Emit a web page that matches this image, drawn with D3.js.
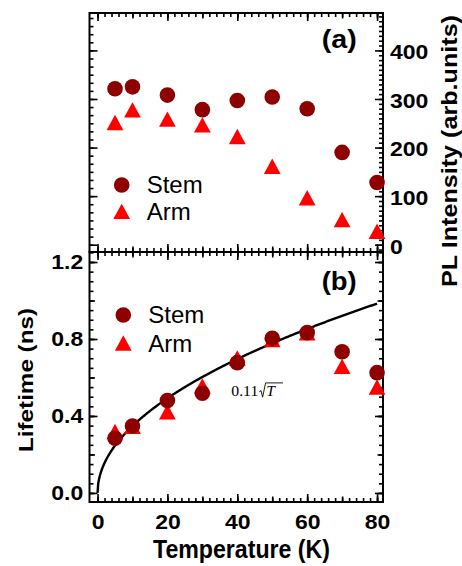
<!DOCTYPE html>
<html><head><meta charset="utf-8">
<script src="https://cdn.jsdelivr.net/npm/d3@7"></script>
<style>html,body{margin:0;padding:0;background:#fff;} svg{display:block;}</style>
</head><body>
<svg id="chart" width="462" height="566"></svg>
<script>
// Measurement temperatures (K)
const temperatures = [5, 10, 20, 30, 40, 50, 60, 70, 80];
// (a) PL intensity, arb. units
const plStem = [321, 325, 308, 278, 297, 304, 280, 190, 128];
const plArm  = [251, 277, 258, 246, 222, 161, 96, 51, 27];
// (b) PL lifetime, ns
const lifeStem = [0.284, 0.348, 0.480, 0.518, 0.677, 0.804, 0.833, 0.734, 0.625];
const lifeArm  = [0.318, 0.345, 0.420, 0.555, 0.700, 0.795, 0.830, 0.656, 0.549];
// fitted model: tau = fitCoef * sqrt(T)
const fitCoef = 0.11;
// tick labels
const tempTicks = [0, 20, 40, 60, 80];
const plTicks = [0, 100, 200, 300, 400];
const lifeTicks = [0.0, 0.4, 0.8, 1.2];
const seriesNames = ["Stem", "Arm"];
const panelLabels = ["(a)", "(b)"];

const COL_STEM = "#8e0000", COL_ARM = "#ff0000";
const svg = d3.select("#chart");

// panel geometry
const L = 89.5, R = 383, topA = 13, midY = 252, botB = 502;

const x = d3.scaleLinear().domain([-2.3, 81.7]).range([L, R]);
const yA = d3.scaleLinear().domain([-15, 477]).range([midY, topA]);
const yB = d3.scaleLinear().domain([-0.047, 1.252]).range([botB, midY]);

const tickFont = "'Liberation Sans', Arial, sans-serif";

// tiered inward ticks: minor, medium, major
function tiered(g, makeAxis, scale, tiers) {
  tiers.forEach(t => {
    const ax = makeAxis(scale).tickValues(t.values).tickSize(-t.len).tickFormat("");
    const sel = g.append("g").call(ax);
    sel.select(".domain").remove();
    sel.selectAll(".tick line").attr("stroke", "#000").attr("stroke-width", 1.6);
  });
}

function labelAxis(g, makeAxis, scale, values, fmt, pad) {
  const ax = makeAxis(scale).tickValues(values).tickSize(0).tickPadding(pad).tickFormat(fmt);
  const sel = g.append("g").call(ax);
  sel.select(".domain").remove();
  sel.selectAll(".tick line").remove();
  sel.selectAll(".tick text")
    .attr("fill", "#000")
    .style("font-family", tickFont)
    .style("font-weight", "bold")
    .style("font-size", "20px")
    .attr("transform", "scale(1.15,1)");
  return sel;
}

const xMinor = d3.range(0, 81, 2), xMid = d3.range(0, 81, 10), xMajor = tempTicks;
const xTiers = [{values: xMinor, len: 4}, {values: xMid, len: 5.5}, {values: xMajor, len: 8}];

// ---------- panel (a) ----------
const gA = svg.append("g");
tiered(gA.append("g").attr("transform", `translate(0,${topA})`), d3.axisTop, x, xTiers);
tiered(gA.append("g").attr("transform", `translate(0,${midY})`), d3.axisBottom, x, xTiers);
// left edge ticks
tiered(gA.append("g").attr("transform", `translate(${L},0)`), d3.axisLeft, yA, [
  {values: d3.range(0, 477, 100 / 6).map(v => +v.toFixed(3)), len: 4},
  {values: d3.range(0, 477, 100), len: 8}
]);
// right intensity axis
tiered(gA.append("g").attr("transform", `translate(${R},0)`), d3.axisRight, yA, [
  {values: d3.range(-10, 477, 10), len: 4},
  {values: d3.range(0, 477, 100), len: 8}
]);
labelAxis(gA.append("g").attr("transform", `translate(${R},0)`), d3.axisRight, yA, plTicks, d3.format("d"), 6)
  .selectAll(".tick text").attr("dy", "0.42em");

gA.append("rect").attr("x", L).attr("y", topA).attr("width", R - L).attr("height", midY - topA)
  .attr("fill", "none").attr("stroke", "#000").attr("stroke-width", 2);

// ---------- panel (b) ----------
const gB = svg.append("g");
tiered(gB.append("g").attr("transform", `translate(0,${midY})`), d3.axisTop, x, xTiers);
tiered(gB.append("g").attr("transform", `translate(0,${botB})`), d3.axisBottom, x, xTiers);
const yBTiers = [
  {values: d3.range(0, 1.26, 0.05).map(v => +v.toFixed(2)), len: 4},
  {values: d3.range(0, 1.26, 0.2).map(v => +v.toFixed(2)), len: 5.5},
  {values: lifeTicks, len: 8}
];
tiered(gB.append("g").attr("transform", `translate(${L},0)`), d3.axisLeft, yB, yBTiers);
tiered(gB.append("g").attr("transform", `translate(${R},0)`), d3.axisRight, yB, yBTiers);
labelAxis(gB.append("g").attr("transform", `translate(${L},0)`), d3.axisLeft, yB, lifeTicks, d3.format(".1f"), 5.5);
labelAxis(gB.append("g").attr("transform", `translate(0,${botB})`), d3.axisBottom, x, tempTicks, d3.format("d"), 13);

gB.append("rect").attr("x", L).attr("y", midY).attr("width", R - L).attr("height", botB - midY)
  .attr("fill", "none").attr("stroke", "#000").attr("stroke-width", 2);

// fit curve
const fitT = d3.range(0, 80.001, 0.2);
gB.append("path")
  .datum(fitT)
  .attr("fill", "none").attr("stroke", "#000").attr("stroke-width", 2.4)
  .attr("d", d3.line().x(t => x(t)).y(t => yB(fitCoef * Math.sqrt(t))));

// markers
function tri(cx, cy, s) {
  const h = s / 2;
  return `M${cx},${cy - h}L${cx + h + 0.4},${cy + h - 0.6}L${cx - h - 0.4},${cy + h - 0.6}Z`;
}
function drawSeries(g, yScale, arm, stem) {
  g.append("g").selectAll("path").data(temperatures).join("path")
    .attr("d", (t, i) => tri(x(t), yScale(arm[i]), 16))
    .attr("fill", COL_ARM);
  g.append("g").selectAll("circle").data(temperatures).join("circle")
    .attr("cx", t => x(t)).attr("cy", (t, i) => yScale(stem[i])).attr("r", 7.8)
    .attr("fill", COL_STEM);
}
drawSeries(gA, yA, plArm, plStem);
drawSeries(gB, yB, lifeArm, lifeStem);

// legends
function legend(g, cx, cy1, cy2) {
  g.append("circle").attr("cx", cx).attr("cy", cy1).attr("r", 7.8).attr("fill", COL_STEM);
  g.append("path").attr("d", tri(cx, cy2, 16)).attr("fill", COL_ARM);
  [cy1, cy2].forEach((cy, i) => {
    g.append("text").attr("x", cx + 25).attr("y", cy + 8.2)
      .style("font-family", tickFont).style("font-size", "24px").attr("fill", "#000")
      .text(seriesNames[i]);
  });
}
legend(gA, 121.7, 185, 211.7);
legend(gB, 123.3, 315, 343.3);

// panel labels
[[panelLabels[0], 47.5], [panelLabels[1], 289.5]].forEach(([txt, yb]) => {
  svg.append("text").attr("x", 321.7).attr("y", yb)
    .attr("textLength", 35).attr("lengthAdjust", "spacingAndGlyphs")
    .style("font-family", tickFont).style("font-weight", "bold").style("font-size", "26px")
    .text(txt);
});

// fit annotation: 0.11 sqrt(T)
const ann = svg.append("g");
ann.append("text").attr("x", 231.3).attr("y", 396.3)
  .attr("textLength", 27).attr("lengthAdjust", "spacingAndGlyphs")
  .style("font-family", "'Liberation Serif', 'Times New Roman', serif").style("font-size", "14px")
  .text(d3.format(".2f")(fitCoef));
ann.append("path").attr("d", "M259.4,391.6L261,390.6L262.6,397.2L265.6,382.9L283,382.9")
  .attr("fill", "none").attr("stroke", "#000").attr("stroke-width", 0.9);
ann.append("text").attr("x", 266.2).attr("y", 396.3)
  .style("font-family", "'Liberation Serif', 'Times New Roman', serif").style("font-size", "15.5px")
  .style("font-style", "italic").text("T");

// axis titles
svg.append("text").attr("x", 241.5).attr("y", 558).attr("text-anchor", "middle")
  .attr("textLength", 177).attr("lengthAdjust", "spacingAndGlyphs")
  .style("font-family", tickFont).style("font-weight", "bold").style("font-size", "25px")
  .text("Temperature (K)");
svg.append("text").attr("transform", "translate(33,380) rotate(-90)").attr("text-anchor", "middle")
  .attr("textLength", 144).attr("lengthAdjust", "spacingAndGlyphs")
  .style("font-family", tickFont).style("font-weight", "bold").style("font-size", "21px")
  .text("Lifetime (ns)");
svg.append("text").attr("transform", "translate(457.3,151) rotate(-90)").attr("text-anchor", "middle")
  .attr("textLength", 272).attr("lengthAdjust", "spacingAndGlyphs")
  .style("font-family", tickFont).style("font-weight", "bold").style("font-size", "22px")
  .text("PL Intensity (arb.units)");
</script>
</body></html>
